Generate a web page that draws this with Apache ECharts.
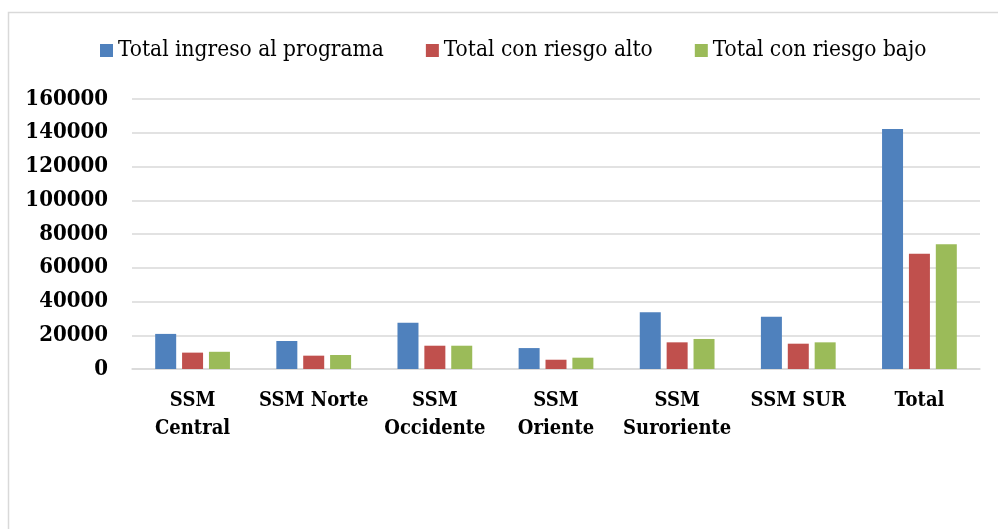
<!DOCTYPE html>
<html>
<head>
<meta charset="utf-8">
<title>Ingreso al programa por SSM</title>
<script src="https://cdn.jsdelivr.net/npm/echarts@6/dist/echarts.min.js"></script>
<style>
    html, body { margin: 0; padding: 0; background: #ffffff; }
    #chart { width: 998px; height: 529px; }
</style>
</head>
<body>
<div id="chart"></div>
<script>
// Data
const categories = ['SSM\nCentral', 'SSM Norte', 'SSM\nOccidente', 'SSM\nOriente', 'SSM\nSuroriente', 'SSM SUR', 'Total'];
const totalIngreso = [20800, 16600, 27400, 12400, 33600, 31000, 142200];
const riesgoAlto = [9700, 7900, 13800, 5500, 15800, 15000, 68300];
const riesgoBajo = [10200, 8300, 13800, 6700, 17800, 15800, 73900];
const seriesNames = ['Total ingreso al programa', 'Total con riesgo alto', 'Total con riesgo bajo'];
const colors = ['#4F81BD', '#C0504D', '#9BBB59'];

const serifFont = "'DejaVu Serif Condensed', 'DejaVu Serif', serif";

document.addEventListener('DOMContentLoaded', function() {
    const chart = echarts.init(document.getElementById('chart'));

    // Build one bar series per data array
    const values = [totalIngreso, riesgoAlto, riesgoBajo];
    const series = seriesNames.map((name, i) => ({
        name: name,
        type: 'bar',
        data: values[i],
        barWidth: 21,
        barGap: '28%',
        itemStyle: { color: colors[i] }
    }));

    chart.setOption({
        animation: false,
        color: colors,
        // light frame like the original chart area
        graphic: [{
            type: 'rect',
            shape: { x: 8.5, y: 12.5, width: 1200, height: 1000 },
            style: { fill: 'none', stroke: '#d9d9d9', lineWidth: 1.5 },
            silent: true
        }],
        legend: {
            top: 34,
            left: 95,
            itemWidth: 13,
            itemHeight: 13,
            itemGap: 42,
            icon: 'rect',
            textStyle: {
                fontFamily: serifFont,
                fontSize: 22.5,
                color: '#000'
            }
        },
        grid: { left: 132, right: 18, top: 99, bottom: 160, containLabel: false },
        xAxis: {
            type: 'category',
            data: categories,
            axisTick: { show: false },
            axisLine: { lineStyle: { color: '#d9d9d9', width: 1.5 } },
            axisLabel: {
                interval: 0,
                margin: 18,
                lineHeight: 28,
                color: '#000',
                fontFamily: serifFont,
                fontWeight: 'bold',
                fontSize: 20
            }
        },
        yAxis: {
            type: 'value',
            min: 0,
            max: 160000,
            interval: 20000,
            axisLine: { show: false },
            axisTick: { show: false },
            splitLine: { lineStyle: { color: '#d9d9d9', width: 1.5 } },
            axisLabel: {
                margin: 24,
                color: '#000',
                fontFamily: serifFont,
                fontWeight: 'bold',
                fontSize: 22,
                formatter: function(v) { return String(v); }
            }
        },
        series: series
    });
});
</script>
</body>
</html>
